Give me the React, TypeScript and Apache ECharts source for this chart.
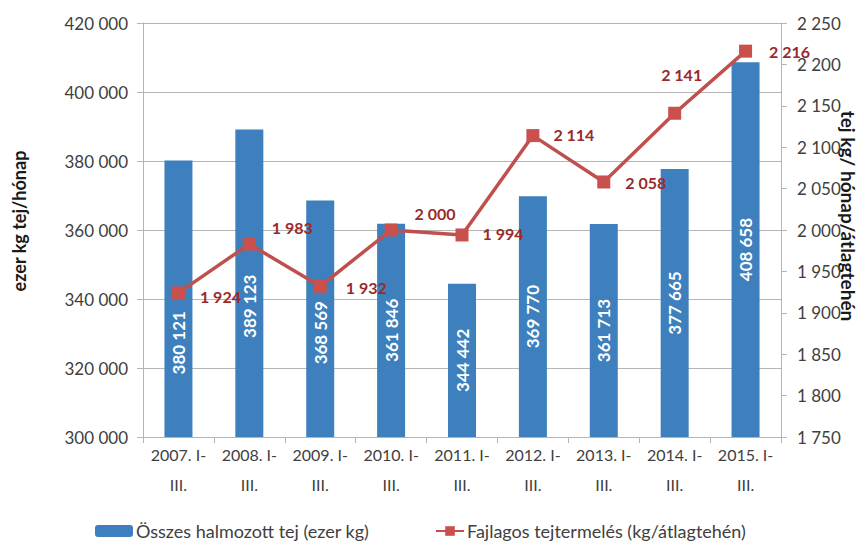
import React, { useEffect, useRef } from "react";
import * as echarts from "echarts";

const categories = [
  "2007. I-\nIII.",
  "2008. I-\nIII.",
  "2009. I-\nIII.",
  "2010. I-\nIII.",
  "2011. I-\nIII.",
  "2012. I-\nIII.",
  "2013. I-\nIII.",
  "2014. I-\nIII.",
  "2015. I-\nIII.",
];
const totalMilk = [380121, 389123, 368569, 361846, 344442, 369770, 361713, 377665, 408658];
const perCow = [1924, 1983, 1932, 2000, 1994, 2114, 2058, 2141, 2216];

const barName = "Összes halmozott tej (ezer kg)";
const lineName = "Fajlagos tejtermelés (kg/átlagtehén)";

// label style offsets (styling only)
const barLabelShift = [44, 23, 14, 0, 0, 0, 0, 0, 0];
const lineLabelOffset: [number, number][] = [
  [42, 4],
  [43, -17],
  [46, 1],
  [44, -17],
  [41, -1],
  [41, -1],
  [42, 1],
  [7, -39],
  [44, 0],
];

const fmt = (v: number) => {
  const s = String(Math.round(v));
  return s.replace(/\B(?=(\d{3})+(?!\d))/g, " ");
};

const FONT = "Lato";
const TXT = "#404040";
const GRID = "#b5b5b5";

export default function App() {
  const ref = useRef<HTMLDivElement>(null);
  useEffect(() => {
    if (!ref.current) return;
    const chart = echarts.init(ref.current, undefined, { renderer: "svg" });
    chart.setOption({
      animation: false,
      backgroundColor: "#ffffff",
      textStyle: { fontFamily: FONT },
      grid: { left: 143, right: 78, top: 23, bottom: 107 },
      legend: [
        {
          data: [barName],
          left: 95,
          top: 522,
          padding: 0,
          itemWidth: 38,
          itemHeight: 12,
          itemGap: 4,
          textStyle: { fontFamily: FONT, fontSize: 18, color: TXT, padding: [0, 0, 0, -2] },
        },
        {
          data: [lineName],
          left: 435,
          top: 522,
          padding: 0,
          itemWidth: 28,
          itemHeight: 12,
          textStyle: { fontFamily: FONT, fontSize: 18, color: TXT, padding: [0, 0, 0, -2] },
        },
      ],
      xAxis: {
        type: "category",
        data: categories,
        axisLine: { show: true, lineStyle: { color: GRID, width: 1 } },
        axisTick: { show: true, alignWithLabel: false, length: 6, lineStyle: { color: GRID } },
        axisLabel: {
          fontFamily: FONT,
          fontSize: 16,
          color: TXT,
          lineHeight: 30,
          margin: 2,
          interval: 0,
        },
      },
      yAxis: [
        {
          type: "value",
          min: 300000,
          max: 420000,
          interval: 20000,
          axisLine: { show: true, lineStyle: { color: GRID } },
          axisTick: { show: true, length: 6, lineStyle: { color: GRID } },
          splitLine: { show: true, lineStyle: { color: GRID, width: 1 } },
          axisLabel: {
            fontFamily: FONT,
            fontSize: 17,
            color: TXT,
            margin: 15,
            formatter: (v: number) => fmt(v),
          },
        },
        {
          type: "value",
          min: 1750,
          max: 2250,
          interval: 50,
          axisLine: { show: true, lineStyle: { color: GRID } },
          axisTick: { show: true, length: 6, lineStyle: { color: GRID } },
          splitLine: { show: false },
          axisLabel: {
            fontFamily: FONT,
            fontSize: 17,
            color: TXT,
            margin: 16,
            formatter: (v: number) => fmt(v),
          },
        },
      ],
      graphic: [
        {
          type: "text",
          x: 19,
          y: 221,
          rotation: Math.PI / 2,
          style: {
            text: "ezer kg tej/hónap",
            fontFamily: FONT,
            fontSize: 18,
            fontWeight: "bold",
            fill: "#1a1a1a",
            align: "center",
            verticalAlign: "middle",
          },
        },
        {
          type: "text",
          x: 848,
          y: 216,
          rotation: -Math.PI / 2,
          style: {
            text: "tej kg/ hónap/átlagtehén",
            fontFamily: FONT,
            fontSize: 19,
            fontWeight: "bold",
            fill: "#1a1a1a",
            align: "center",
            verticalAlign: "middle",
          },
        },
      ],
      series: [
        {
          name: barName,
          type: "bar",
          yAxisIndex: 0,
          barWidth: 28,
          itemStyle: { color: "#3d80bd" },
          data: totalMilk.map((v, i) => ({
            value: v,
            label: { offset: [-barLabelShift[i], 0] },
          })),
          label: {
            show: true,
            position: "inside",
            rotate: 90,
            color: "#ffffff",
            fontFamily: FONT,
            fontWeight: "bold",
            fontSize: 17,
            formatter: (p: any) => fmt(p.value),
          },
        },
        {
          name: lineName,
          type: "line",
          yAxisIndex: 1,
          symbol: "rect",
          symbolSize: 13,
          lineStyle: { color: "#c0504d", width: 3.5 },
          itemStyle: { color: "#c9504d" },
          data: perCow.map((v, i) => ({
            value: v,
            label: { offset: lineLabelOffset[i] },
          })),
          label: {
            show: true,
            position: "inside",
            color: "#9a2a2a",
            fontFamily: FONT,
            fontWeight: "bold",
            fontSize: 16,
            formatter: (p: any) => fmt(p.value),
          },
          z: 5,
        },
      ],
    });
    return () => chart.dispose();
  }, []);
  return (
    <div
      ref={ref}
      style={{ position: "fixed", left: 0, top: 0, width: 859, height: 544 }}
    />
  );
}
